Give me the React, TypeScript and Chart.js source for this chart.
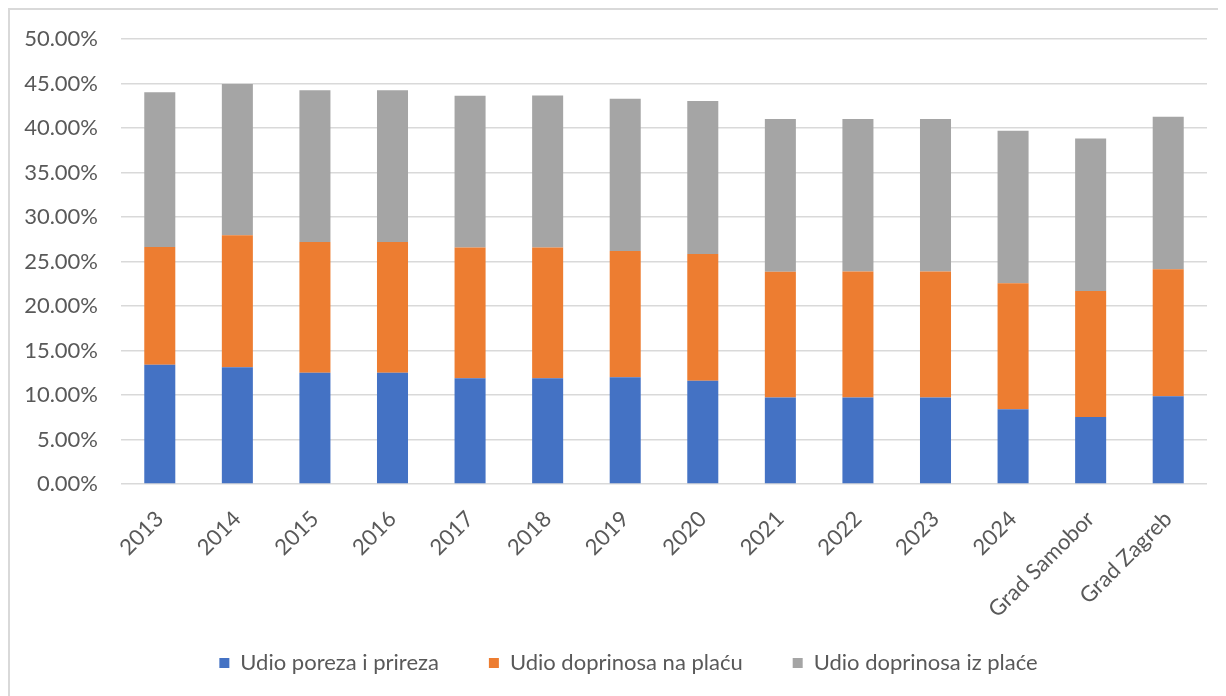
import React, { useEffect, useRef } from "react";
import { Chart, registerables } from "chart.js";

Chart.register(...registerables);

const categories = [
  "2013", "2014", "2015", "2016", "2017", "2018", "2019", "2020",
  "2021", "2022", "2023", "2024", "Grad Samobor", "Grad Zagreb",
];
const seriesNames = ["Udio poreza i prireza", "Udio doprinosa na plaću", "Udio doprinosa iz plaće"];
const porezPrirez = [13.4, 13.13, 12.5, 12.5, 11.9, 11.9, 12.0, 11.6, 9.72, 9.72, 9.72, 8.4, 7.54, 9.87];
const doprinosNaPlacu = [13.24, 14.83, 14.71, 14.71, 14.68, 14.68, 14.2, 14.26, 14.15, 14.18, 14.18, 14.16, 14.15, 14.26];
const doprinosIzPlace = [17.39, 17.01, 17.05, 17.05, 17.07, 17.1, 17.11, 17.19, 17.15, 17.12, 17.12, 17.14, 17.16, 17.15];
const yMax = 50;
const yStep = 5;

const colors = ["#4472C4", "#ED7D31", "#A5A5A5"];
const FONT = "Lato, 'Open Sans', sans-serif";
const TEXT = "#595959";

const LEGEND_TRIM = 30;
const LEGEND_SHIFT_X = 20;

const legendTweak = {
  id: "legendTweak",
  beforeLayout(chart: any) {
    const l = chart.legend;
    if (l && !l.__patched) {
      const orig = l.fit;
      l.fit = function (this: any) {
        orig.call(this);
        this.height -= LEGEND_TRIM;
      };
      l.__patched = true;
    }
  },
  afterLayout(chart: any) {
    const l = chart.legend;
    if (l) {
      l.top -= LEGEND_TRIM;
      l.left += LEGEND_SHIFT_X;
      l.right += LEGEND_SHIFT_X;
    }
  },
};

export default function App() {
  const ref = useRef<HTMLCanvasElement | null>(null);

  useEffect(() => {
    if (!ref.current) return;
    const chart = new Chart(ref.current, {
      type: "bar",
      data: {
        labels: categories,
        datasets: [porezPrirez, doprinosNaPlacu, doprinosIzPlace].map((d, i) => ({
          label: seriesNames[i],
          data: d,
          backgroundColor: colors[i],
          borderWidth: 0,
          barPercentage: 0.4,
          categoryPercentage: 1,
        })),
      },
      options: {
        responsive: false,
        maintainAspectRatio: false,
        animation: false,
        layout: { padding: { top: 17, right: 19, left: 0, bottom: 12 } },
        plugins: {
          tooltip: { enabled: false },
          legend: {
            position: "bottom",
            labels: {
              boxWidth: 10,
              boxHeight: 10,
              padding: 50,
              color: TEXT,
              font: { family: FONT, size: 22 },
            },
          },
        },
        scales: {
          x: {
            stacked: true,
            grid: { display: false, drawTicks: false },
            border: { display: false },
            ticks: {
              color: TEXT,
              font: { family: FONT, size: 22 },
              minRotation: 45,
              maxRotation: 45,
              autoSkip: false,
              padding: 22,
            },
            afterFit: (s: any) => { s.height = 118 + LEGEND_TRIM; },
          },
          y: {
            stacked: true,
            min: 0,
            max: yMax,
            grid: {
              color: "#D9D9D9",
              lineWidth: 1.5,
              drawTicks: true,
              tickLength: 7,
              tickColor: "rgba(0,0,0,0)",
            },
            border: { display: false },
            ticks: {
              stepSize: yStep,
              color: TEXT,
              font: { family: FONT, size: 22 },
              padding: 16,
              callback: (v: any) => Number(v).toFixed(2) + "%",
            },
            afterFit: (s: any) => { s.width = 111; },
          },
        },
      },
      plugins: [legendTweak],
    });
    return () => chart.destroy();
  }, []);

  return (
    <div
      style={{
        width: 1218,
        height: 688,
        borderTop: "2px solid #D9D9D9",
        borderLeft: "2px solid #D9D9D9",
        boxSizing: "border-box",
        background: "#fff",
        overflow: "hidden",
      }}
    >
      <canvas ref={ref} width={1216} height={686} style={{ display: "block" }} />
    </div>
  );
}
